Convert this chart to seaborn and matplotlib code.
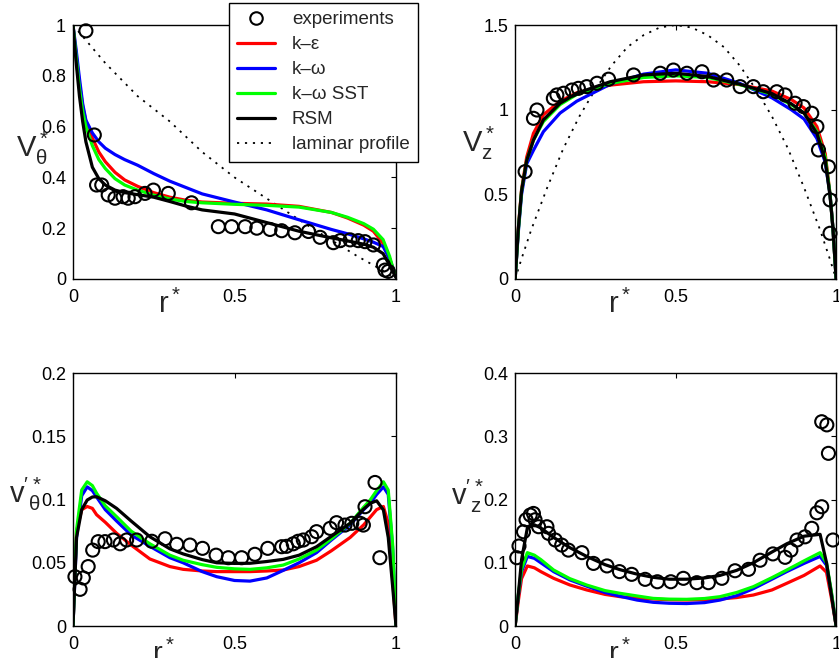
import matplotlib
matplotlib.use("Agg")
import matplotlib.pyplot as plt
import seaborn as sns
from matplotlib.lines import Line2D
from matplotlib.ticker import FormatStrFormatter

sns.set_style("white")
plt.rcParams['font.family'] = ['Liberation Sans', 'DejaVu Sans']
plt.rcParams['mathtext.fontset'] = 'custom'
plt.rcParams['mathtext.rm'] = 'Liberation Sans'
plt.rcParams['mathtext.it'] = 'Liberation Sans'
plt.rcParams['mathtext.default'] = 'regular'

models = ["k–ε", "k–ω", "k–ω SST", "RSM"]
model_colors = ["#ff0000", "#0000ff", "#00ff00", "#000000"]

# ---- panel 1: swirl velocity V_theta* ----
vt_exp_r = [0.040, 0.066, 0.073, 0.089, 0.109, 0.130, 0.155, 0.171, 0.192, 0.223, 0.249,
            0.295, 0.367, 0.450, 0.491, 0.533, 0.569, 0.610, 0.646, 0.687, 0.729, 0.765,
            0.806, 0.827, 0.858, 0.883, 0.904, 0.930, 0.961, 0.966, 0.976]
vt_exp_v = [0.977, 0.567, 0.370, 0.370, 0.331, 0.318, 0.324, 0.318, 0.324, 0.337, 0.350,
            0.337, 0.300, 0.206, 0.206, 0.206, 0.200, 0.195, 0.190, 0.182, 0.187, 0.164,
            0.143, 0.151, 0.154, 0.151, 0.147, 0.134, 0.055, 0.035, 0.030]
vt_r = [0, 0.01, 0.02, 0.03, 0.04, 0.06, 0.08, 0.1, 0.13, 0.16, 0.2, 0.25, 0.3, 0.35,
        0.4, 0.5, 0.6, 0.7, 0.8, 0.85, 0.9, 0.93, 0.96, 0.98, 0.99, 1.0]
vt_ke = [1, 0.88, 0.77, 0.68, 0.62, 0.555, 0.5, 0.462, 0.42, 0.39, 0.365, 0.34, 0.322, 0.31,
         0.303, 0.298, 0.295, 0.286, 0.262, 0.24, 0.212, 0.188, 0.14, 0.08, 0.04, 0.01]
vt_kw = [1, 0.9, 0.79, 0.69, 0.625, 0.575, 0.54, 0.515, 0.49, 0.47, 0.448, 0.415, 0.385, 0.36,
         0.335, 0.303, 0.272, 0.233, 0.195, 0.178, 0.158, 0.145, 0.128, 0.08, 0.045, 0.01]
vt_sst = [1, 0.87, 0.75, 0.66, 0.6, 0.525, 0.47, 0.435, 0.395, 0.37, 0.35, 0.33, 0.315, 0.305,
          0.3, 0.294, 0.29, 0.283, 0.262, 0.243, 0.218, 0.196, 0.155, 0.09, 0.045, 0.01]
vt_rsm = [1, 0.85, 0.72, 0.62, 0.54, 0.44, 0.395, 0.37, 0.35, 0.34, 0.332, 0.322, 0.305, 0.287,
          0.272, 0.256, 0.222, 0.188, 0.162, 0.15, 0.137, 0.125, 0.1, 0.055, 0.03, 0.005]
vt_lam_r = [0, 0.04, 0.1, 0.2, 0.3, 0.4, 0.5, 0.62, 0.74, 0.88, 0.95, 1.0]
vt_lam_v = [1, 0.94, 0.85, 0.72, 0.62, 0.5, 0.4, 0.3, 0.2, 0.09, 0.04, 0]

# ---- panel 2: axial velocity V_z* ----
vz_exp_r = [0.031, 0.057, 0.068, 0.119, 0.130, 0.151, 0.177, 0.197, 0.223, 0.255, 0.291,
            0.369, 0.452, 0.493, 0.535, 0.582, 0.618, 0.659, 0.701, 0.742, 0.773, 0.815,
            0.841, 0.872, 0.898, 0.924, 0.940, 0.945, 0.976, 0.981, 0.981]
vz_exp_v = [0.634, 0.949, 0.998, 1.067, 1.087, 1.097, 1.116, 1.126, 1.136, 1.156, 1.180,
            1.205, 1.215, 1.234, 1.215, 1.224, 1.175, 1.175, 1.136, 1.136, 1.106, 1.106,
            1.087, 1.038, 1.018, 0.979, 0.900, 0.762, 0.663, 0.467, 0.270]
vz_r = [0, 0.01, 0.02, 0.036, 0.057, 0.088, 0.14, 0.192, 0.296, 0.4, 0.5, 0.6, 0.7, 0.8,
        0.86, 0.9, 0.94, 0.966, 0.981, 0.99, 1.0]
vz_ke = [0, 0.3, 0.53, 0.72, 0.86, 0.97, 1.05, 1.1, 1.145, 1.165, 1.17, 1.165, 1.148, 1.11,
         1.06, 1.01, 0.9, 0.74, 0.5, 0.3, 0]
vz_kw = [0, 0.28, 0.5, 0.68, 0.76, 0.87, 0.98, 1.05, 1.15, 1.21, 1.235, 1.215, 1.155, 1.07,
         1.0, 0.945, 0.83, 0.69, 0.5, 0.3, 0]
vz_sst = [0, 0.29, 0.52, 0.7, 0.82, 0.93, 1.03, 1.09, 1.155, 1.19, 1.2, 1.19, 1.148, 1.09,
          1.03, 0.98, 0.87, 0.72, 0.5, 0.3, 0]
vz_rsm = [0, 0.3, 0.52, 0.7, 0.82, 0.94, 1.038, 1.097, 1.165, 1.205, 1.215, 1.196, 1.15, 1.095,
          1.035, 0.98, 0.86, 0.7, 0.49, 0.3, 0]
vz_lam_r = [0, 0.02, 0.05, 0.1, 0.15, 0.2, 0.25, 0.3, 0.35, 0.4, 0.45, 0.5,
            0.55, 0.6, 0.65, 0.7, 0.75, 0.8, 0.85, 0.9, 0.95, 0.98, 1.0]
vz_lam_v = [0, 0.12, 0.29, 0.54, 0.77, 0.96, 1.12, 1.26, 1.37, 1.44, 1.485, 1.5,
            1.485, 1.44, 1.37, 1.26, 1.12, 0.96, 0.77, 0.54, 0.29, 0.12, 0]

# ---- panel 3: swirl fluctuation v'_theta* ----
ut_exp_r = [0.006, 0.032, 0.022, 0.047, 0.061, 0.078, 0.099, 0.125, 0.146, 0.166, 0.197,
            0.244, 0.285, 0.321, 0.362, 0.401, 0.443, 0.481, 0.522, 0.563, 0.603, 0.646,
            0.661, 0.682, 0.697, 0.713, 0.739, 0.754, 0.796, 0.816, 0.842, 0.863, 0.889,
            0.899, 0.904, 0.935, 0.950]
ut_exp_v = [0.039, 0.038, 0.029, 0.047, 0.060, 0.0667, 0.0667, 0.068, 0.065, 0.068, 0.068,
            0.067, 0.069, 0.0646, 0.064, 0.0614, 0.056, 0.054, 0.054, 0.0567, 0.0614, 0.0627,
            0.063, 0.065, 0.067, 0.068, 0.0706, 0.0746, 0.0772, 0.0817, 0.0798, 0.0812, 0.0812,
            0.0798, 0.0943, 0.1135, 0.054]
ut_r = [0, 0.011, 0.027, 0.044, 0.06, 0.073, 0.1, 0.135, 0.18, 0.238, 0.3, 0.341, 0.4, 0.445,
        0.5, 0.548, 0.6, 0.651, 0.7, 0.754, 0.8, 0.858, 0.9, 0.92, 0.94, 0.961, 0.976, 0.99, 1.0]
ut_ke = [0, 0.075, 0.092, 0.0945, 0.093, 0.088, 0.082, 0.0733, 0.064, 0.053, 0.047, 0.0448,
         0.0435, 0.043, 0.043, 0.043, 0.0435, 0.0443, 0.047, 0.052, 0.0595, 0.07, 0.08, 0.086,
         0.092, 0.0945, 0.081, 0.036, 0]
ut_kw = [0, 0.07, 0.103, 0.11, 0.107, 0.102, 0.092, 0.083, 0.072, 0.063, 0.054, 0.05, 0.043,
         0.039, 0.036, 0.0355, 0.038, 0.044, 0.05, 0.058, 0.068, 0.08, 0.092, 0.097, 0.104,
         0.11, 0.104, 0.06, 0]
ut_sst = [0, 0.076, 0.1075, 0.114, 0.111, 0.105, 0.095, 0.0864, 0.075, 0.065, 0.056, 0.052,
          0.0485, 0.0464, 0.0452, 0.0448, 0.046, 0.0482, 0.053, 0.06, 0.069, 0.0812, 0.094,
          0.0996, 0.107, 0.114, 0.1075, 0.063, 0]
ut_rsm = [0, 0.07, 0.092, 0.0996, 0.102, 0.1022, 0.099, 0.093, 0.083, 0.0706, 0.061, 0.057,
          0.0525, 0.05, 0.0495, 0.0496, 0.051, 0.0527, 0.056, 0.0627, 0.071, 0.0812, 0.0925,
          0.097, 0.099, 0.0917, 0.07, 0.03, 0]

# ---- panel 4: axial fluctuation v'_z* ----
uz_exp_r = [0.005, 0.012, 0.026, 0.034, 0.047, 0.057, 0.062, 0.073, 0.099, 0.104, 0.125,
            0.145, 0.166, 0.208, 0.244, 0.286, 0.325, 0.363, 0.405, 0.443, 0.485, 0.524,
            0.566, 0.602, 0.644, 0.685, 0.727, 0.763, 0.803, 0.841, 0.859, 0.878, 0.903,
            0.924, 0.940, 0.955, 0.955, 0.971, 0.976, 0.990]
uz_exp_v = [0.108, 0.1265, 0.149, 0.168, 0.1755, 0.178, 0.168, 0.157, 0.157, 0.1465, 0.136,
            0.128, 0.120, 0.116, 0.099, 0.095, 0.086, 0.0817, 0.0738, 0.070, 0.070, 0.0754,
            0.0685, 0.0685, 0.0754, 0.0874, 0.0896, 0.104, 0.114, 0.1086, 0.120, 0.136, 0.141,
            0.1545, 0.179, 0.1886, 0.323, 0.318, 0.273, 0.136]
uz_r = [0, 0.01, 0.02, 0.038, 0.06, 0.08, 0.12, 0.17, 0.223, 0.28, 0.327, 0.38, 0.43, 0.48,
        0.534, 0.59, 0.638, 0.69, 0.742, 0.8, 0.846, 0.9, 0.95, 0.97, 0.985, 1.0]
uz_ke = [0, 0.04, 0.075, 0.095, 0.092, 0.086, 0.0754, 0.065, 0.057, 0.05, 0.0464, 0.044,
         0.0427, 0.0415, 0.0411, 0.0415, 0.0427, 0.045, 0.049, 0.057, 0.0675, 0.08, 0.095,
         0.085, 0.045, 0]
uz_kw = [0, 0.048, 0.086, 0.11, 0.107, 0.1, 0.086, 0.073, 0.063, 0.053, 0.047, 0.041, 0.0375,
         0.036, 0.0355, 0.037, 0.041, 0.048, 0.059, 0.074, 0.086, 0.099, 0.11, 0.096, 0.053, 0]
uz_sst = [0, 0.05, 0.09, 0.116, 0.112, 0.105, 0.0885, 0.075, 0.0648, 0.056, 0.0517, 0.0475,
          0.0437, 0.0425, 0.0422, 0.0435, 0.0464, 0.053, 0.0622, 0.0765, 0.0885, 0.103, 0.116,
          0.1, 0.055, 0]
uz_rsm = [0, 0.05, 0.105, 0.155, 0.16, 0.155, 0.14, 0.124, 0.11, 0.097, 0.089, 0.082, 0.077,
          0.074, 0.074, 0.076, 0.08, 0.088, 0.1, 0.117, 0.13, 0.142, 0.145, 0.1, 0.05, 0]

panels = [
    dict(exp=(vt_exp_r, vt_exp_v), r=vt_r, curves=[vt_ke, vt_kw, vt_sst, vt_rsm],
         lam=(vt_lam_r, vt_lam_v), ylim=1.0, yticks=[0, 0.2, 0.4, 0.6, 0.8, 1.0],
         ylabel=r"$V^*_\theta$", ylab_pos=(-0.176, 0.48), xlab_pos=(0.263, -0.134)),
    dict(exp=(vz_exp_r, vz_exp_v), r=vz_r, curves=[vz_ke, vz_kw, vz_sst, vz_rsm],
         lam=(vz_lam_r, vz_lam_v), ylim=1.5, yticks=[0, 0.5, 1.0, 1.5],
         ylabel=r"$V^*_z$", ylab_pos=(-0.165, 0.50), xlab_pos=(0.29, -0.134)),
    dict(exp=(ut_exp_r, ut_exp_v), r=ut_r, curves=[ut_ke, ut_kw, ut_sst, ut_rsm],
         lam=None, ylim=0.2, yticks=[0, 0.05, 0.1, 0.15, 0.2],
         ylabel=r"$v'^*_\theta$", ylab_pos=(-0.198, 0.486), xlab_pos=(0.245, -0.146)),
    dict(exp=(uz_exp_r, uz_exp_v), r=uz_r, curves=[uz_ke, uz_kw, uz_sst, uz_rsm],
         lam=None, ylim=0.4, yticks=[0, 0.1, 0.2, 0.3, 0.4],
         ylabel=r"$v'^*_z$", ylab_pos=(-0.199, 0.478), xlab_pos=(0.29, -0.146)),
]

dot_style = (0, (1.2, 3.2))

fig = plt.figure(figsize=(8.39, 6.58), dpi=100)
rects = [(0.087, 0.576, 0.385, 0.386), (0.614, 0.576, 0.3826, 0.386),
         (0.087, 0.0486, 0.385, 0.3845), (0.614, 0.0486, 0.3826, 0.3845)]

for rect, p in zip(rects, panels):
    ax = fig.add_axes(rect)
    if p["lam"] is not None:
        sns.lineplot(x=p["lam"][0], y=p["lam"][1], ax=ax, color="black", lw=1.3,
                     linestyle=dot_style, estimator=None)
    for vals, c in zip(p["curves"], model_colors):
        sns.lineplot(x=p["r"], y=vals, ax=ax, color=c, lw=2.3, estimator=None)
    sns.scatterplot(x=p["exp"][0], y=p["exp"][1], ax=ax, marker="o", s=88,
                    facecolors="none", edgecolor="black", linewidth=1.5, clip_on=False, zorder=5)
    ax.set_xlim(0, 1)
    ax.set_ylim(0, p["ylim"])
    ax.set_xticks([0, 0.5, 1])
    ax.set_yticks(p["yticks"])
    ax.xaxis.set_major_formatter(FormatStrFormatter("%g"))
    ax.yaxis.set_major_formatter(FormatStrFormatter("%g"))
    ax.tick_params(direction="in", top=True, right=True, length=3.5, width=0.8,
                   labelsize=13, pad=5, colors="black")
    ax.tick_params(axis="x", pad=7)
    for s in ax.spines.values():
        s.set_color("black")
        s.set_linewidth(1.0)
    ax.text(p["ylab_pos"][0], p["ylab_pos"][1], p["ylabel"], transform=ax.transAxes,
            fontsize=21, ha="left", va="baseline")
    ax.text(p["xlab_pos"][0], p["xlab_pos"][1], r"$r^*$", transform=ax.transAxes,
            fontsize=21, ha="left", va="baseline")

handles = [Line2D([], [], marker="o", ls="none", mfc="none", mec="black", ms=9, mew=1.5)]
handles += [Line2D([], [], color=c, lw=2.3) for c in model_colors]
handles.append(Line2D([], [], color="black", lw=1.3, linestyle=dot_style))
labels = ["experiments"] + models + ["laminar profile"]
leg = fig.legend(handles, labels, loc="upper left", bbox_to_anchor=(0.273, 0.996),
                 fontsize=13.5, frameon=True, fancybox=False, framealpha=1,
                 edgecolor="black", handlelength=2.0, labelspacing=0.42,
                 borderaxespad=0, borderpad=0.45, handletextpad=0.9)
leg.get_frame().set_linewidth(1.0)

fig.savefig("out.png", dpi=100)
